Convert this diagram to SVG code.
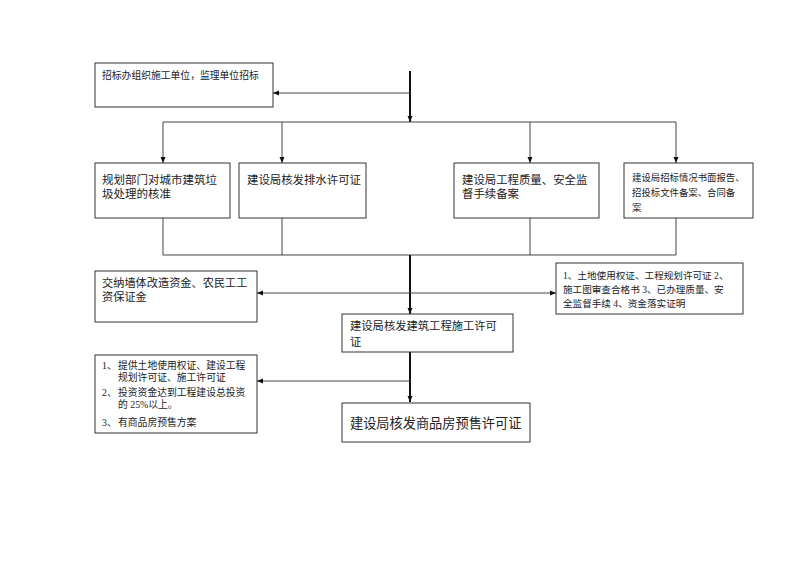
<svg xmlns="http://www.w3.org/2000/svg" width="800" height="566" viewBox="0 0 800 566">
<style>
.box{fill:#fff;stroke:#333;stroke-width:1}
.t{font-family:"Liberation Serif","Noto Sans CJK SC",serif;fill:#222}
.thin{fill:none;stroke:#444;stroke-width:1}
.thick{fill:none;stroke:#111;stroke-width:2}
</style>
<defs>
<marker id="ah" markerUnits="userSpaceOnUse" markerWidth="6" markerHeight="6" refX="6" refY="3" orient="auto">
<path d="M0,0.5 L6,3 L0,5.5 z" fill="#111"/>
</marker>
<marker id="ahs" markerUnits="userSpaceOnUse" markerWidth="6" markerHeight="6" refX="0" refY="3" orient="auto">
<path d="M6,0.5 L0,3 L6,5.5 z" fill="#111"/>
</marker>
</defs>
<rect width="800" height="566" fill="#fff"/>
<g id="connectors">
<path class="thick" d="M410,71 V122" marker-end="url(#ah)"/>
<path class="thin" d="M410,93 H273" marker-end="url(#ah)"/>
<path class="thin" d="M163,122 H676"/>
<path class="thin" d="M163,122 V163" marker-end="url(#ah)"/>
<path class="thin" d="M282,122 V163" marker-end="url(#ah)"/>
<path class="thin" d="M530,122 V163" marker-end="url(#ah)"/>
<path class="thin" d="M676,122 V163" marker-end="url(#ah)"/>
<path class="thin" d="M163,218 V255 H676 V218"/>
<path class="thin" d="M282,218 V255"/>
<path class="thin" d="M530,218 V255"/>
<path class="thick" d="M410,255 V314" marker-end="url(#ah)"/>
<path class="thin" d="M257,293 H556" marker-start="url(#ahs)" marker-end="url(#ah)"/>
<path class="thick" d="M410,352 V402" marker-end="url(#ah)"/>
<path class="thin" d="M410,381 H257" marker-end="url(#ah)"/>
</g>
<g id="n1">
<rect class="box" x="95" y="63" width="178" height="44"/>
<text class="t" x="102" y="79" font-size="9.8">招标办组织施工单位，监理单位招标</text>
</g>
<g id="n2">
<rect class="box" x="95" y="163" width="135" height="55"/>
<text class="t" font-size="11.5"><tspan x="102" y="184">规划部门对城市建筑垃</tspan><tspan x="102" y="198">圾处理的核准</tspan></text>
</g>
<g id="n3">
<rect class="box" x="239" y="163" width="127" height="55"/>
<text class="t" x="247" y="184" font-size="11.4">建设局核发排水许可证</text>
</g>
<g id="n4">
<rect class="box" x="454" y="163" width="145" height="55"/>
<text class="t" font-size="11.4"><tspan x="462" y="184">建设局工程质量、安全监</tspan><tspan x="462" y="198">督手续备案</tspan></text>
</g>
<g id="n5">
<rect class="box" x="624" y="163" width="129" height="55"/>
<text class="t" font-size="9.4"><tspan x="632" y="181">建设局招标情况书面报告、</tspan><tspan x="632" y="196">招投标文件备案、合同备</tspan><tspan x="632" y="211">案</tspan></text>
</g>
<g id="n6">
<rect class="box" x="95" y="271" width="162" height="51"/>
<text class="t" font-size="11.2"><tspan x="102" y="287">交纳墙体改造资金、农民工工</tspan><tspan x="102" y="301">资保证金</tspan></text>
</g>
<g id="n7">
<rect class="box" x="556" y="263" width="187" height="51"/>
<text class="t" font-size="9.6"><tspan x="563" y="278.5">1、土地使用权证、工程规划许可证 2、</tspan><tspan x="563" y="292.5">施工图审查合格书 3、已办理质量、安</tspan><tspan x="563" y="306.5">全监督手续 4、资金落实证明</tspan></text>
</g>
<g id="n8">
<rect class="box" x="342" y="314" width="171" height="38"/>
<text class="t" font-size="11.3"><tspan x="350" y="330">建设局核发建筑工程施工许可</tspan><tspan x="350" y="346">证</tspan></text>
</g>
<g id="n9">
<rect class="box" x="95" y="355" width="162" height="78"/>
<text class="t" font-size="9.8"><tspan x="102" y="368.5">1、</tspan><tspan x="118" y="368.5">提供土地使用权证、建设工程</tspan><tspan x="118" y="381">规划许可证、施工许可证</tspan><tspan x="102" y="395.5">2、</tspan><tspan x="118" y="395.5">投资资金达到工程建设总投资</tspan><tspan x="118" y="408">的 25%以上。</tspan><tspan x="102" y="425.5">3、</tspan><tspan x="118" y="425.5">有商品房预售方案</tspan></text>
</g>
<g id="n10">
<rect class="box" x="342" y="403" width="188" height="39"/>
<text class="t" x="350" y="428" font-size="13.2">建设局核发商品房预售许可证</text>
</g>
</svg>
